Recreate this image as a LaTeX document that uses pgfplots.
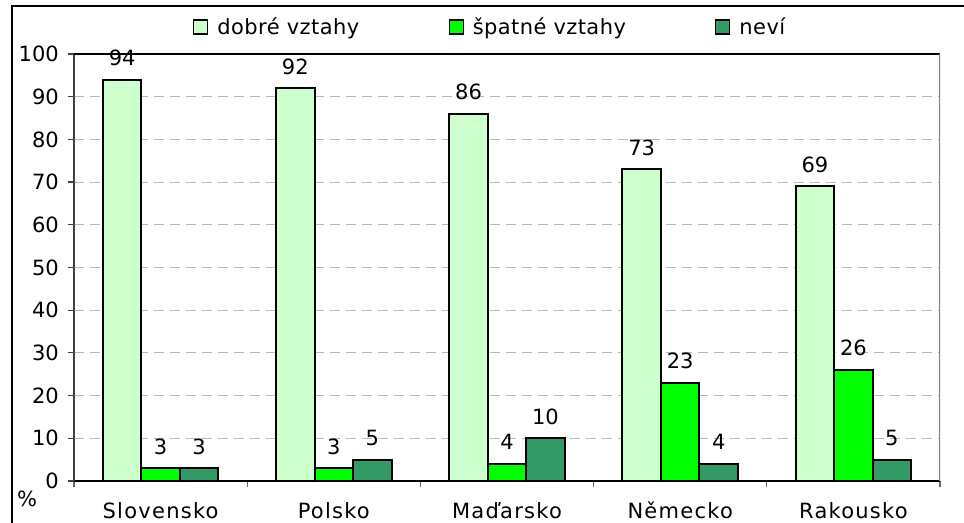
\documentclass[border=0pt]{standalone}
\usepackage{fontspec}
\setmainfont{DejaVu Sans}
\newfontfamily\catfont[LetterSpace=6]{DejaVu Sans}
\newfontfamily\legfont[LetterSpace=2]{DejaVu Sans}
\usepackage{pgfplots}
\pgfplotsset{compat=1.18}
\definecolor{cLight}{HTML}{CCFFCC}
\definecolor{cMid}{HTML}{00FF00}
\definecolor{cDark}{HTML}{339966}
\pgfplotsset{sqleg/.style={legend image code/.code={\draw[#1,draw=black,line width=0.9pt] (0pt,-5.25pt) rectangle (10.5pt,5.25pt);}}}
\newcommand{\fs}{\fontsize{15.75}{18}\selectfont}
\begin{document}
\begin{tikzpicture}
\useasboundingbox (-55.5pt,-31.5pt) rectangle (667.5pt,360.75pt);
\begin{axis}[
  at={(0,0)}, anchor=south west,
  scale only axis, width=649.5pt, height=320.25pt,
  xmin=-0.5, xmax=4.5, ymin=0, ymax=100,
  axis x line*=bottom, axis y line*=left,
  axis line style={-},
  x axis line style={black, line width=1.1pt},
  y axis line style={black!75, line width=1.1pt},
  tick align=outside, major tick length=4.5pt,
  xtick={-0.5,0.5,1.5,2.5,3.5,4.5},
  x tick label as interval,
  xticklabels={Slovensko,Polsko,Maďarsko,Německo,Rakousko},
  ytick={0,10,...,100},
  x tick style={black!60, line width=0.9pt},
  y tick style={black!75, line width=0.9pt},
  /pgf/number format/assume math mode=true,
  yticklabel style={font=\fs, inner sep=0pt, anchor=east, xshift=-6.75pt},
  xticklabel style={font=\catfont\fs, inner sep=0pt, anchor=base, yshift=-23.5pt},
  ymajorgrids,
  grid style={gray!55, dash pattern=on 7.5pt off 4.5pt, line width=0.6pt},
  ybar, bar width=0.2222,
  nodes near coords,
  every node near coord/.append style={font=\fs, anchor=base, yshift=10.5pt, text=black, inner sep=0pt},
  legend columns=3,
  legend style={draw=none, fill=none, at={(axis description cs:0.1374,1.0632)}, anchor=west,
    font=\legfont\fs, inner sep=0pt, nodes={inner sep=0pt},
    /tikz/every odd column/.append style={column sep=6.75pt},
    /tikz/every even column/.append style={column sep=67pt}},
  legend cell align=left,
]
\addplot[bar shift=-0.2222, fill=cLight, draw=black, line width=1.5pt, sqleg]
  coordinates {(0,94) (1,92) (2,86) (3,73) (4,69)};
\addplot[bar shift=0, fill=cMid, draw=black, line width=1.5pt, sqleg]
  coordinates {(0,3) (1,3) (2,4) (3,23) (4,26)};
\addplot[bar shift=0.2222, fill=cDark, draw=black, line width=1.5pt, sqleg]
  coordinates {(0,3) (1,5) (2,10) (3,4) (4,5)};
\legend{dobré vztahy, špatné vztahy, neví}
\draw[black, line width=1.1pt] (rel axis cs:0,1) -- (rel axis cs:1,1);
\draw[black!50, line width=1.1pt] (rel axis cs:1,0) -- (rel axis cs:1,1);
\end{axis}
\node[font=\fs, inner sep=0pt] at (-35.25pt,-13.5pt) {\%};
\draw[line width=1.5pt] (-46.5pt,356.25pt) rectangle (672pt,-36pt);
\end{tikzpicture}
\end{document}
